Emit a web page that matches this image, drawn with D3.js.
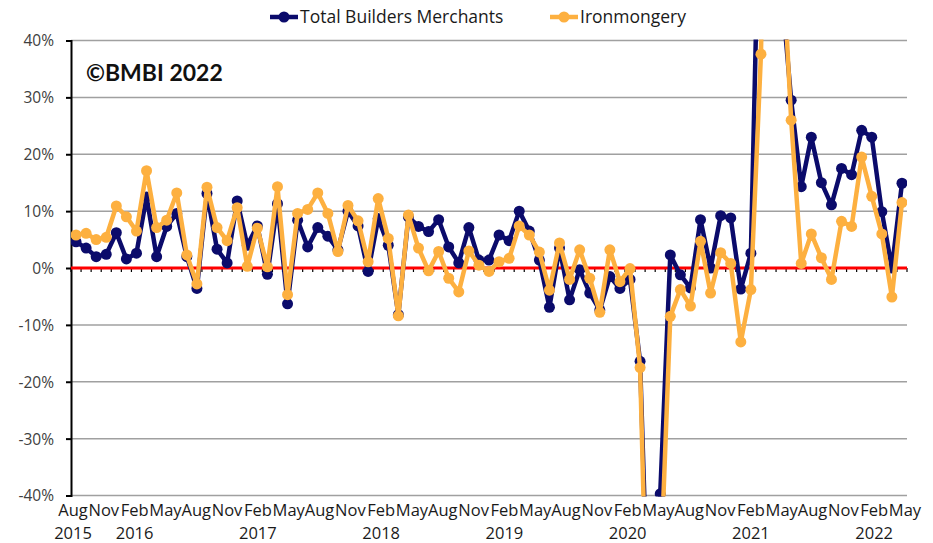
<!DOCTYPE html>
<html>
<head>
<meta charset="utf-8">
<script src="https://cdn.jsdelivr.net/npm/d3@7"></script>
<style>
  body { margin: 0; background: #fff; }
  text { font-family: "Open Sans", "Liberation Sans", sans-serif; }
</style>
</head>
<body>
<div id="chart"></div>
<script>

// monthly points, Jul 2015 .. May 2022
var monthNames = ["Jan","Feb","Mar","Apr","May","Jun","Jul","Aug","Sep","Oct","Nov","Dec"];
var categories = [];
for (var yr = 2015; yr <= 2022; yr++) {
  for (var m = 0; m < 12; m++) {
    if (yr == 2015 && m < 6) continue;
    if (yr == 2022 && m > 4) continue;
    categories.push(monthNames[m] + " " + yr);
  }
}

// axis labels (every 3rd month, Aug 2015 .. May 2022)
var tickMonths = ["Aug","Nov","Feb","May","Aug","Nov","Feb","May","Aug","Nov","Feb","May","Aug","Nov",
  "Feb","May","Aug","Nov","Feb","May","Aug","Nov","Feb","May","Aug","Nov","Feb","May"];
var tickYears = ["2015","","2016","","","","2017","","","","2018","","","",
  "2019","","","","2020","","","","2021","","","","2022",""];

// year on year change, %
var totalBM = [4.6, 3.5, 2.0, 2.4, 6.2, 1.6, 2.6, 12.5, 2.0, 7.3,
  9.6, 2.0, -3.6, 13.1, 3.3, 0.9, 11.8, 4.0, 7.4, -1.1,
  11.3, -6.3, 8.4, 3.7, 7.1, 5.6, 3.2, 10.0, 7.4, -0.6,
  8.7, 4.0, -8.2, 9.0, 7.3, 6.4, 8.5, 3.7, 0.9, 7.1,
  1.4, 1.4, 5.8, 4.8, 10.0, 6.5, 1.4, -6.9, 3.5, -5.6,
  -0.3, -4.4, -7.4, -1.5, -3.6, -2.0, -16.4, -73, -39.7, 2.3,
  -1.2, -3.5, 8.5, 0.0, 9.2, 8.8, -3.7, 2.6, 80, 150,
  50, 29.5, 14.3, 23.0, 15.0, 11.1, 17.5, 16.4, 24.2, 23.0,
  9.9, 0.0, 14.9];

var ironmongery = [5.8, 6.1, 5.0, 5.4, 10.9, 9.0, 6.5, 17.1, 7.1, 8.4,
  13.2, 2.3, -2.8, 14.2, 7.1, 4.8, 10.6, 0.3, 7.0, 0.2,
  14.3, -4.7, 9.6, 10.3, 13.2, 9.6, 2.9, 11.0, 8.3, 1.1,
  12.2, 5.2, -8.4, 9.3, 3.5, -0.5, 2.9, -1.8, -4.2, 3.0,
  0.5, -0.6, 1.1, 1.7, 7.4, 5.8, 2.8, -3.9, 4.4, -2.0,
  3.2, -1.8, -7.8, 3.2, -2.4, -0.1, -17.5, -85, -55, -8.5,
  -3.8, -6.7, 4.7, -4.4, 2.7, 0.8, -13.0, -3.8, 37.6, 130,
  60, 26.0, 0.8, 6.0, 1.8, -2.0, 8.2, 7.3, 19.5, 12.6,
  6.0, -5.1, 11.5];

var yTicks = [-40, -30, -20, -10, 0, 10, 20, 30, 40];
var series = [
  {name: "Total Builders Merchants", values: totalBM, color: "#0b0b6b"},
  {name: "Ironmongery", values: ironmongery, color: "#fdb040"}
];

var W = 933, H = 543;
var plotL = 71, plotR = 907, plotT = 40.5, plotB = 495.5;

var svg = d3.select("#chart").append("svg")
  .attr("width", W).attr("height", H);

var x = d3.scalePoint().domain(categories).range([plotL, plotR]).padding(0.5);
var y = d3.scaleLinear().domain([-40, 40]).range([plotB, plotT]);
// labels are spread evenly under the axis
var xl = d3.scalePoint().domain(d3.range(tickMonths.length)).range([73, 905]);

// gridlines
svg.append("g").selectAll("line").data(yTicks).enter().append("line")
  .attr("x1", plotL).attr("x2", plotR)
  .attr("y1", function(d){ return y(d); }).attr("y2", function(d){ return y(d); })
  .style("stroke", "#a0a0a0").style("stroke-width", 1.5);

// y axis
var yAxis = d3.axisLeft(y).tickValues(yTicks).tickSize(5)
  .tickFormat(function(d){ return d + "%"; });
var gy = svg.append("g").attr("transform", "translate(" + plotL + ",0)").call(yAxis);
gy.select(".domain").style("stroke", "#000").style("stroke-width", 2);
gy.selectAll(".tick line").style("stroke", "#000").style("stroke-width", 2);
gy.selectAll(".tick text").attr("x", -17).attr("dy", "0.35em")
  .style("font-size", "15.5px").style("fill", "#404040").style("font-family", "'Open Sans', sans-serif");

// category tick marks under the zero line
var step = x.step();
var bounds = d3.range(categories.length + 1).map(function(i){ return plotL + i * step; });
svg.append("g").selectAll("line").data(bounds).enter().append("line")
  .attr("x1", function(d){ return d; }).attr("x2", function(d){ return d; })
  .attr("y1", y(0)).attr("y2", y(0) + 4)
  .style("stroke", "#000").style("stroke-width", 1.2);

// zero line
svg.append("line").attr("x1", plotL).attr("x2", plotR)
  .attr("y1", y(0)).attr("y2", y(0))
  .style("stroke", "#ff0000").style("stroke-width", 3);

// month / year labels
var gx = svg.append("g");
gx.selectAll("text.m").data(tickMonths).enter().append("text")
  .attr("class", "m")
  .attr("x", function(d, i){ return xl(i); }).attr("y", 516)
  .attr("text-anchor", "middle")
  .style("font-size", "16.5px").style("fill", "#1a1a1a")
  .text(function(d){ return d; });
gx.selectAll("text.yr").data(tickYears).enter().append("text")
  .attr("class", "yr")
  .attr("x", function(d, i){ return xl(i); }).attr("y", 539)
  .attr("text-anchor", "middle")
  .style("font-size", "16.5px").style("fill", "#1a1a1a")
  .text(function(d){ return d; });

// clip for plot area
svg.append("clipPath").attr("id", "plotclip").append("rect")
  .attr("x", plotL).attr("y", plotT - 1).attr("width", plotR - plotL).attr("height", plotB - plotT + 2);

var line = d3.line()
  .x(function(d, i){ return x(categories[i]); })
  .y(function(d){ return y(d); });

series.forEach(function(s){
  var g = svg.append("g").attr("clip-path", "url(#plotclip)");
  g.append("path").datum(s.values)
    .attr("d", line)
    .style("fill", "none").style("stroke", s.color)
    .style("stroke-width", 4.5).style("stroke-linejoin", "round");
  g.selectAll("circle").data(s.values.map(function(v, i){ return {v: v, i: i}; })
      .filter(function(d){ return d.v >= -40.5 && d.v <= 40.5; }))
    .enter().append("circle")
    .attr("cx", function(d){ return x(categories[d.i]); })
    .attr("cy", function(d){ return y(d.v); })
    .attr("r", 5.5)
    .style("fill", s.color);
});

// legend
var legX = [270, 550];
series.forEach(function(s, k){
  var lg = svg.append("g").attr("transform", "translate(" + legX[k] + ",17)");
  lg.append("line").attr("x1", 0).attr("x2", 28).attr("y1", 0).attr("y2", 0)
    .style("stroke", s.color).style("stroke-width", 4.5);
  lg.append("circle").attr("cx", 14).attr("cy", 0).attr("r", 5.5).style("fill", s.color);
  lg.append("text").attr("x", 30).attr("y", 6)
    .style("font-size", "17.5px").style("fill", "#1a1a1a")
    .text(s.name);
});

// copyright note
svg.append("text").attr("x", 86).attr("y", 81)
  .style("font-family", "Lato, sans-serif")
  .style("font-size", "23px").style("font-weight", "bold").style("fill", "#111")
  .text("\u00a9BMBI 2022");

</script>
</body>
</html>
